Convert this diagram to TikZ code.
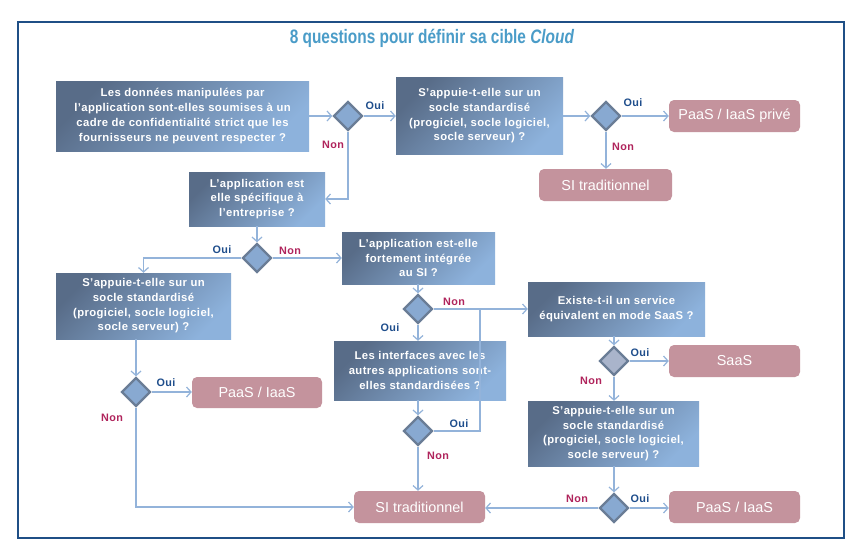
\documentclass[tikz,border=0pt]{standalone}
\usepackage{fontspec}
\setmainfont{Liberation Sans}
\newfontfamily\boxfont{Liberation Sans}[LetterSpace=3.5]
\newfontfamily\titlefont{Liberation Sans}[FakeStretch=0.79]
\usetikzlibrary{shapes.geometric,arrows.meta}
\definecolor{boxdark}{HTML}{586C88}
\definecolor{boxlight}{HTML}{8DB2DC}
\definecolor{pinkc}{HTML}{C4939D}
\definecolor{diafill}{HTML}{88A9D1}
\definecolor{diafillb}{HTML}{A9B4CB}
\definecolor{diaborder}{HTML}{6A7D96}
\definecolor{connc}{HTML}{93B3DA}
\definecolor{ouic}{HTML}{1F4E8C}
\definecolor{nonc}{HTML}{B0245C}
\definecolor{framec}{HTML}{1F4F86}
\definecolor{titlec}{HTML}{4A9CC8}
\begin{document}
\begin{tikzpicture}[x=1pt,y=-1pt,
  qbox/.style={rectangle, inner sep=2pt, top color=boxdark, bottom color=boxlight, shading angle=45,
    text=white, font=\boxfont\bfseries\fontsize{11.3}{14.7}\selectfont, align=center},
  ans/.style={rectangle, rounded corners=5pt, fill=pinkc, text=white, minimum width=131pt, minimum height=32pt,
    font=\fontsize{14.4}{16}\selectfont},
  dia/.style={diamond, aspect=1, minimum width=29pt, minimum height=29pt, inner sep=0pt, fill=diafill, draw=diaborder, line width=2.4pt},
  conn/.style={draw=connc, line width=1.2pt, -{Straight Barb[length=4.5pt,width=10pt]}},
  plain/.style={draw=connc, line width=1.2pt},
  oui/.style={font=\boxfont\bfseries\fontsize{10.8}{12}\selectfont, text=ouic, inner sep=0pt},
  non/.style={font=\boxfont\bfseries\fontsize{10.8}{12}\selectfont, text=nonc, inner sep=0pt}
]
\useasboundingbox (0,0) rectangle (865,558);
\fill[white] (0,0) rectangle (865,558);
\draw[framec, line width=1.3pt] (18,22) rectangle (844,538);
\node (title) at (432,38) {\titlefont\bfseries\fontsize{19.5}{21}\selectfont\color{titlec}8 questions pour définir sa cible \textit{Cloud}};

% questions
\node[qbox, minimum width=253pt, minimum height=70pt] (b1) at (182.5,116) {Les données manipulées par\\l’application sont-elles soumises à un\\cadre de confidentialité strict que les\\fournisseurs ne peuvent respecter ?};
\node[qbox, minimum width=167pt, minimum height=77pt] (b2) at (479.5,116) {S’appuie-t-elle sur un\\socle standardisé\\(progiciel, socle logiciel,\\socle serveur) ?};
\node[qbox, minimum width=136pt, minimum height=54pt] (b3) at (257,199) {L’application est\\elle spécifique à\\l’entreprise ?};
\node[qbox, minimum width=175pt, minimum height=66pt] (b4) at (143.5,306) {S’appuie-t-elle sur un\\socle standardisé\\(progiciel, socle logiciel,\\socle serveur) ?};
\node[qbox, minimum width=153pt, minimum height=52pt] (b5) at (418.5,258) {L’application est-elle\\fortement intégrée\\au SI ?};
\node[qbox, minimum width=172pt, minimum height=59pt] (b6) at (420,370.5) {Les interfaces avec les\\autres applications sont-\\elles standardisées ?};
\node[qbox, minimum width=177pt, minimum height=54pt] (b7) at (616.5,309) {Existe-t-il un service\\équivalent en mode SaaS ?};
\node[qbox, minimum width=171pt, minimum height=65pt] (b8) at (613.5,433.5) {S’appuie-t-elle sur un\\socle standardisé\\(progiciel, socle logiciel,\\socle serveur) ?};

% answers
\node[ans] (p1) at (734.5,116) {PaaS / IaaS privé};
\node[ans, minimum width=133pt] (s1) at (605.5,185) {SI traditionnel};
\node[ans, minimum width=130pt, minimum height=31pt] (p2) at (257,392.5) {PaaS / IaaS};
\node[ans] (saas) at (734.5,361) {SaaS};
\node[ans] (s2) at (419.5,507) {SI traditionnel};
\node[ans] (p3) at (734.5,507) {PaaS / IaaS};

% diamonds
\node[dia] (d1) at (348,116) {};
\node[dia] (d2) at (606,116) {};
\node[dia] (d3) at (257,258) {};
\node[dia] (d4) at (136,392) {};
\node[dia] (d5) at (418,309) {};
\node[dia] (d6) at (418,431) {};
\node[dia, fill=diafillb] (d7) at (614,361) {};
\node[dia] (d8) at (614,508) {};

\coordinate (j1) at (480,431);
\coordinate (j2) at (480,309);

% connectors
\draw[conn] (b1.east |- d1.west) -- (d1.west);
\draw[conn] (d1.east) -- (b2.west |- d1.east);
\draw[conn] (d1.south) |- (b3.east);
\draw[conn] (b2.east |- d2.west) -- (d2.west);
\draw[conn] (d2.east) -- (p1.west);
\draw[conn] (d2.south) -- (s1.north -| d2.south);
\draw[conn] (b3.south) -- (d3.north);
\draw[conn] (d3.west) -| (b4.north);
\draw[conn] (d3.east) -- (b5.west);
\draw[conn] (d4.north |- b4.south) -- (d4.north);
\draw[conn] (d4.east) -- (p2.west |- d4.east);
\draw[conn] (d4.south) |- (s2.west);
\draw[conn] (b5.south -| d5.north) -- (d5.north);
\draw[conn] (d5.east) -- (b7.west |- d5.east);
\draw[conn] (d5.south) -- (b6.north -| d5.south);
\draw[conn] (b6.south -| d6.north) -- (d6.north);
\draw[plain] (d6.east) -- (j1) -- (j2);
\draw[conn] (d6.south) -- (s2.north -| d6.south);
\draw[conn] (b7.south -| d7.north) -- (d7.north);
\draw[conn] (d7.east) -- (saas.west |- d7.east);
\draw[conn] (d7.south) -- (b8.north -| d7.south);
\draw[conn] (b8.south -| d8.north) -- (d8.north);
\draw[conn] (d8.east) -- (p3.west |- d8.east);
\draw[conn] (d8.west) -- (s2.east |- d8.west);

% labels
\node[oui] (l1) at (375,106) {Oui};
\node[non] (l2) at (333,145) {Non};
\node[oui] (l3) at (633,103) {Oui};
\node[non] (l4) at (623,147) {Non};
\node[oui] (l5) at (222,250) {Oui};
\node[non] (l6) at (290,251) {Non};
\node[oui] (l7) at (166,383) {Oui};
\node[non] (l8) at (112,418) {Non};
\node[non] (l9) at (454,302) {Non};
\node[oui] (l10) at (390,328) {Oui};
\node[oui] (l11) at (459,424) {Oui};
\node[non] (l12) at (438,456) {Non};
\node[oui] (l13) at (640,353) {Oui};
\node[non] (l14) at (591,381) {Non};
\node[non] (l15) at (577,499) {Non};
\node[oui] (l16) at (640,499) {Oui};
\end{tikzpicture}
\end{document}
